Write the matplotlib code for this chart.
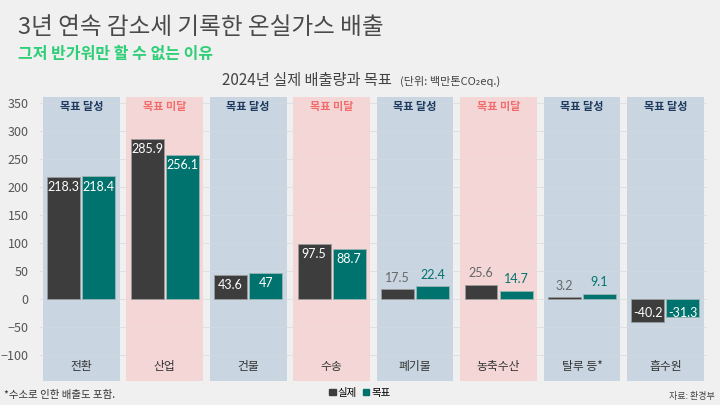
import matplotlib
matplotlib.use('Agg')
import matplotlib.pyplot as plt
from matplotlib.patches import Patch
import numpy as np

plt.rcParams['font.family'] = ['Noto Sans CJK KR', 'DejaVu Sans']

cats = ['전환', '산업', '건물', '수송', '폐기물', '농축수산', '탈루 등*', '흡수원']
actual = [218.3, 285.9, 43.6, 97.5, 17.5, 25.6, 3.2, -40.2]
target = [218.4, 256.1, 47, 88.7, 22.4, 14.7, 9.1, -31.3]
status = ['목표 달성', '목표 미달', '목표 달성', '목표 미달', '목표 달성', '목표 미달', '목표 달성', '목표 달성']
yticks = [-100, -50, 0, 50, 100, 150, 200, 250, 300, 350]

bg = '#f0f0f0'
c_act = '#3d3d3d'
c_tgt = '#00736e'
c_ok = '#c9d6e1'
c_no = '#f4d6d6'

fig = plt.figure(figsize=(7.2, 4.05), dpi=100, facecolor=bg)
ax = fig.add_axes([0.0551, 0.0593, 0.927, 0.7012])
ax.set_facecolor(bg)
ymin, ymax = -146, 360
ax.set_xlim(-0.5, 7.5)
ax.set_ylim(ymin, ymax)

x = np.arange(len(cats))
# background panels
for i, s in enumerate(status):
    col = c_ok if s == '목표 달성' else c_no
    ax.bar(i, ymax - ymin, bottom=ymin, width=0.92, color=col, zorder=1)
    ax.text(i, 343, s, ha='center', va='center', fontsize=8, fontweight='bold',
            color='#1f3a5f' if s == '목표 달성' else '#f36b6b', zorder=5)
    ax.text(i, -121, cats[i], ha='center', va='center', fontsize=8.5, color='#333333', zorder=5)

for yv in yticks:
    ax.axhline(yv, color='#dddddd', lw=0.6, zorder=0.5)
    ax.axhline(yv, color='#e2e2e2', lw=0.5, alpha=0.35, zorder=2)

w = 0.395
ax.bar(x - 0.21, actual, width=w, color=c_act, edgecolor='#9a9a9a', linewidth=0.6, zorder=3)
ax.bar(x + 0.21, target, width=w, color=c_tgt, edgecolor='#9ab5b3', linewidth=0.6, zorder=3)

numfont = ['Lato', 'Noto Sans CJK KR']
for vals, dx, out_col in [(actual, -0.21, '#666666'), (target, 0.21, c_tgt)]:
    for i, v in enumerate(vals):
        lab = f'{v:g}'
        if abs(v) >= 40 or v < 0:
            if v > 0:
                ax.annotate(lab, (i + dx, v), xytext=(0, -3), textcoords='offset points',
                            ha='center', va='top', color='white', fontsize=9, family=numfont, zorder=6)
            else:
                ax.annotate(lab, (i + dx, 0), xytext=(0, -6), textcoords='offset points',
                            ha='center', va='top', color='white', fontsize=9, family=numfont, zorder=6)
        else:
            ax.annotate(lab, (i + dx, v), xytext=(0, 4), textcoords='offset points',
                        ha='center', va='bottom', color=out_col, fontsize=9, family=numfont, zorder=6)

ax.set_xticks([])
ax.set_yticks(yticks)
ax.tick_params(axis='y', length=0, pad=8, labelsize=9, labelcolor='#555555')
for sp in ax.spines.values():
    sp.set_visible(False)

fig.text(0.025, 0.933, '3년 연속 감소세 기록한 온실가스 배출', fontsize=17, color='#4a4a4a',
         ha='left', va='center')
fig.text(0.025, 0.866, '그저 반가워만 할 수 없는 이유', fontsize=11.5, color='#2fcf78',
         fontweight='bold', ha='left', va='center')
fig.text(0.308, 0.802, '2024년 실제 배출량과 목표', fontsize=11, color='#444444',
         ha='left', va='center')
fig.text(0.555, 0.800, '(단위: 백만톤CO₂eq.)', fontsize=8, color='#444444',
         ha='left', va='center')

fig.text(0.006, 0.025, '*수소로 인한 배출도 포함.', fontsize=7.5, color='#333333', ha='left', va='center')
fig.text(0.993, 0.022, '자료: 환경부', fontsize=6.5, color='#444444', ha='right', va='center')
handles = [Patch(color=c_act, label='실제'), Patch(color=c_tgt, label='목표')]
fig.legend(handles=handles, loc='center', bbox_to_anchor=(0.5, 0.03), ncol=2, frameon=False,
           fontsize=7.5, handlelength=0.6, handleheight=0.6, handletextpad=0.2, columnspacing=0.6)

fig.savefig('out.png', dpi=100, facecolor=bg)
